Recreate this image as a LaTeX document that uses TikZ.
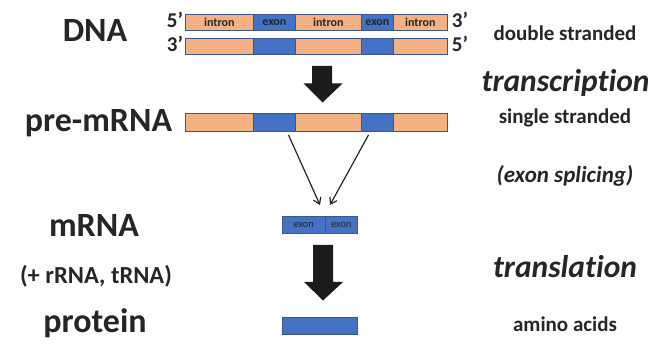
\documentclass[tikz,border=0pt]{standalone}
\usepackage{fontspec}
\setmainfont{Carlito}[Ligatures=NoCommon]
\usetikzlibrary{arrows.meta}

\definecolor{intronfill}{HTML}{F4B183}
\definecolor{exonfill}{HTML}{4472C4}
\definecolor{segborder}{HTML}{3B5592}
\definecolor{ink}{HTML}{262626}
\definecolor{arrowfill}{HTML}{1C1C1C}

\tikzset{
  seg/.style={draw=segborder, line width=0.8pt, inner sep=0pt, anchor=north west,
    text=ink, font=\bfseries\fontsize{12}{12}\selectfont},
  intron/.style={seg, fill=intronfill},
  exon/.style={seg, fill=exonfill},
  biglabel/.style={anchor=base, text=ink, font=\bfseries\fontsize{34}{34}\selectfont, inner sep=0pt},
  sidelabel/.style={anchor=base, text=ink, font=\bfseries\fontsize{21}{21}\selectfont, inner sep=0pt},
  steplabel/.style={anchor=base, text=ink, font=\bfseries\itshape\fontsize{31.5}{31.5}\selectfont, inner sep=0pt},
  endlabel/.style={anchor=base, text=ink, font=\bfseries\fontsize{21}{21}\selectfont, inner sep=0pt},
  splice/.style={draw=ink, line width=1.2pt, -{Straight Barb[length=6pt,width=8pt,line width=1.2pt]}},
  blockarrow/.style={fill=arrowfill},
}

\begin{document}
\begin{tikzpicture}[x=1pt, y=-1pt]
\useasboundingbox (0,0) rectangle (662,344);

% ---- DNA, two strands ----
\node[intron, minimum width=68pt, minimum height=16pt] (d1a) at (185,14) {intron};
\node[exon,   minimum width=42pt, minimum height=16pt] (d1b) at (253,14) {exon};
\node[intron, minimum width=66pt, minimum height=16pt] (d1c) at (295,14) {intron};
\node[exon,   minimum width=32pt, minimum height=16pt] (d1d) at (361,14) {exon};
\node[intron, minimum width=54pt, minimum height=16pt] (d1e) at (393,14) {intron};

\node[intron, minimum width=68pt, minimum height=16pt] (d2a) at (185,38) {};
\node[exon,   minimum width=42pt, minimum height=16pt] (d2b) at (253,38) {};
\node[intron, minimum width=66pt, minimum height=16pt] (d2c) at (295,38) {};
\node[exon,   minimum width=32pt, minimum height=16pt] (d2d) at (361,38) {};
\node[intron, minimum width=54pt, minimum height=16pt] (d2e) at (393,38) {};

\node[endlabel] (p5a) at (175,28) {5’};
\node[endlabel] (p3a) at (175,52) {3’};
\node[endlabel] (p3b) at (460,28) {3’};
\node[endlabel] (p5b) at (460,52) {5’};

% ---- pre-mRNA ----
\node[intron, minimum width=68pt, minimum height=18pt] (ra) at (185,113) {};
\node[exon,   minimum width=42pt, minimum height=18pt] (rb) at (253,113) {};
\node[intron, minimum width=66pt, minimum height=18pt] (rc) at (295,113) {};
\node[exon,   minimum width=32pt, minimum height=18pt] (rd) at (361,113) {};
\node[intron, minimum width=54pt, minimum height=18pt] (re) at (393,113) {};

% ---- mRNA ----
\node[exon, minimum width=43.3pt, minimum height=17pt,
      font=\fontsize{10.5}{10.5}\selectfont] (ma) at (281.7,215.7) {exon};
\node[exon, minimum width=31.7pt, minimum height=17pt,
      font=\fontsize{10.5}{10.5}\selectfont] (mb) at (325,215.7) {exon};

% ---- protein ----
\node[exon, minimum width=75.6pt, minimum height=17.6pt] (prot) at (281.7,316.7) {};

% ---- splicing connectors ----
\coordinate (s1) at (288.5,135);
\coordinate (s2) at (368.5,135);
\coordinate (t1) at (320,205);
\coordinate (t2) at (330,205);
\draw[splice] (s1) -- (t1);
\draw[splice] (s2) -- (t2);

% ---- block arrows ----
\fill[blockarrow] (312,66) -- (332,66) -- (332,83.5) -- (342.5,83.5) -- (322.5,102.5)
  -- (303.5,83.5) -- (312,83.5) -- cycle;
\fill[blockarrow] (313,245) -- (333,245) -- (333,282) -- (343,282) -- (323,300.5)
  -- (304,282) -- (313,282) -- cycle;

% ---- left labels ----
\node[biglabel] (lDNA) at (95,41.5) {DNA};
\node[biglabel] (lpre) at (98.5,131.5) {pre-mRNA};
\node[biglabel] (lm) at (94,237) {mRNA};
\node[anchor=base, text=ink, inner sep=0pt, font=\bfseries\fontsize{24.5}{24.5}\selectfont]
  (lrna) at (96,284) {(+ rRNA, tRNA)};
\node[biglabel] (lprot) at (95,333) {protein};

% ---- right labels ----
\node[sidelabel] (rds) at (565,41) {double stranded};
\node[steplabel] (rtc) at (565.5,92) {transcription};
\node[sidelabel] (rss) at (565,124) {single stranded};
\node[anchor=base, text=ink, inner sep=0pt, font=\bfseries\itshape\fontsize{23}{23}\selectfont]
  (rsp) at (565,183) {(exon splicing)};
\node[steplabel] (rtl) at (565,278) {translation};
\node[sidelabel] (raa) at (565,332) {amino acids};
\end{tikzpicture}
\end{document}
